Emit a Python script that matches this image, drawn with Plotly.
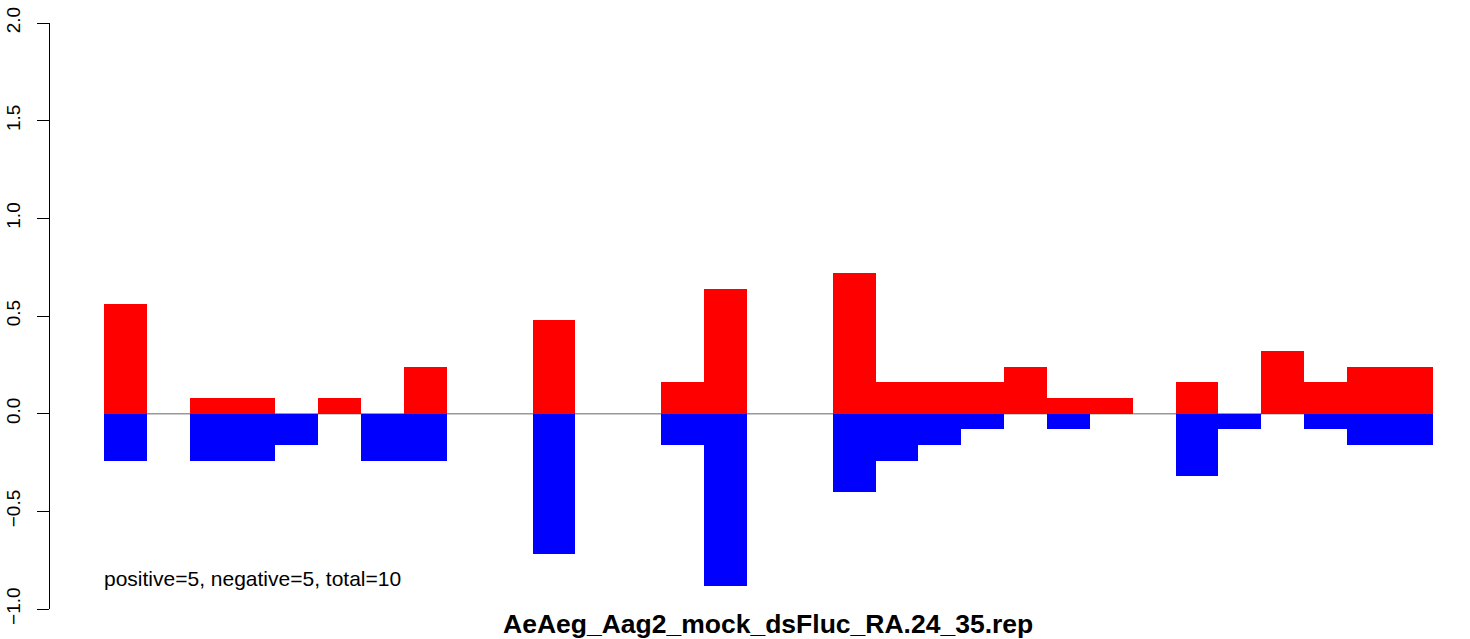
import plotly.graph_objects as go

# Data
positions = list(range(1, 32))
positive = [0.56, 0.00, 0.08, 0.08, 0.00, 0.08, 0.00, 0.24, 0.00, 0.00,
            0.48, 0.00, 0.00, 0.16, 0.64, 0.00, 0.00, 0.72, 0.16, 0.16,
            0.16, 0.24, 0.08, 0.08, 0.00, 0.16, 0.00, 0.32, 0.16, 0.24,
            0.24]
negative = [-0.24, 0.00, -0.24, -0.24, -0.16, 0.00, -0.24, -0.24, 0.00, 0.00,
            -0.72, 0.00, 0.00, -0.16, -0.88, 0.00, 0.00, -0.40, -0.24, -0.16,
            -0.08, 0.00, -0.08, 0.00, 0.00, -0.32, -0.08, 0.00, -0.08, -0.16,
            -0.16]
y_ticks = [-1.0, -0.5, 0.0, 0.5, 1.0, 1.5, 2.0]
title_text = "AeAeg_Aag2_mock_dsFluc_RA.24_35.rep"
stats_text = "positive=5, negative=5, total=10"

n = len(positions)
centers = [i + 0.5 for i in range(n)]

FONT = "Liberation Sans, Arial, Helvetica, sans-serif"

fig = go.Figure()
fig.add_trace(go.Bar(x=centers, y=positive, width=1, marker=dict(color="#FF0000", line=dict(width=0)),
                     hoverinfo="skip", showlegend=False))
fig.add_trace(go.Bar(x=centers, y=negative, width=1, marker=dict(color="#0000FF", line=dict(width=0)),
                     hoverinfo="skip", showlegend=False))

fig.add_shape(type="line", xref="x", yref="y", x0=0, x1=n, y0=0, y1=0,
              line=dict(color="#999999", width=1.5), layer="below")

fig.add_annotation(text=stats_text, xref="x", yref="y", x=0, y=-0.845,
                   xanchor="left", yanchor="middle", xshift=-2, showarrow=False,
                   font=dict(family=FONT, size=21, color="#000000"))
fig.add_annotation(text="<b>" + title_text + "</b>", xref="x", yref="paper", x=n / 2, y=0,
                   xanchor="center", yanchor="middle", yshift=-15, showarrow=False,
                   font=dict(family=FONT, size=26.5, color="#000000"))

fig.update_layout(
    width=1470, height=639,
    margin=dict(l=50, r=0, t=23, b=30, pad=0, autoexpand=False),
    paper_bgcolor="white", plot_bgcolor="white",
    barmode="overlay", bargap=0,
    font=dict(family=FONT, color="#000000"),
    xaxis=dict(range=[-1.26, 31.87], visible=False, showgrid=False, zeroline=False, automargin=False),
    yaxis=dict(range=[-1.0, 2.0], tickvals=y_ticks, ticktext=[f"{v:.1f}".replace("-", "\u2212") for v in y_ticks],
               tickangle=-90, ticks="outside", ticklen=12, tickwidth=1, tickcolor="#000000",
               showline=True, linecolor="#000000", linewidth=1, showgrid=False, zeroline=False,
               automargin=False,
               tickfont=dict(family=FONT, size=19, color="#000000"), ticklabelstandoff=9),
)

fig.write_html("out.html", config={"displayModeBar": False, "staticPlot": True},
               post_script="document.body.style.margin='0px';document.body.style.overflow='hidden';")
